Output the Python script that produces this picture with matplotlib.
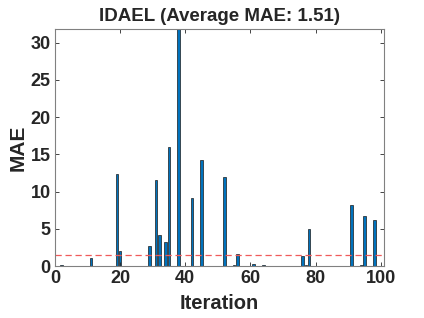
import numpy as np
import matplotlib
matplotlib.use('Agg')
import matplotlib.pyplot as plt

plt.rcParams.update({'font.family': ['Liberation Sans', 'DejaVu Sans'],
                     'font.weight': 'bold', 'axes.labelweight': 'bold',
                     'axes.titleweight': 'bold', 'text.color': '#262626',
                     'axes.labelcolor': '#262626'})

# non-zero MAE per iteration (others are 0)
iters = [2, 11, 19, 20, 28, 29, 31, 32, 34, 35, 38, 40, 42, 45, 52, 55, 56,
         60, 61, 64, 76, 77, 78, 80, 91, 94, 95, 98, 100]
mae_vals = [0.15, 1.04, 12.43, 1.98, 0.05, 2.69, 11.62, 4.13, 3.23, 15.97, 31.85,
            0.05, 9.2, 14.22, 11.9, 0.2, 1.57, 0.05, 0.3, 0.2, 1.4, 0.1, 5.03,
            0.05, 8.26, 0.1, 6.78, 6.19, 0.05]
avg_mae = 1.51

x = np.arange(1, 101)
mae = np.zeros(100)
mae[np.array(iters) - 1] = mae_vals

fig = plt.figure(figsize=(4.24, 3.18), dpi=100)
ax = fig.add_axes([0.1297, 0.1635, 0.776, 0.7453])

ax.bar(x, mae, width=0.8, color='#0072BD', edgecolor='#1a1a1a', linewidth=0.5)
ax.axhline(avg_mae, color='#f05a5a', ls='--', lw=0.9, dashes=(5, 3))

ax.set_xlim(0, 101)
ax.set_ylim(0, mae.max())
ax.set_xticks(np.arange(0, 101, 20))
ax.set_yticks(np.arange(0, 31, 5))
ax.tick_params(direction='in', length=3, width=0.6, colors='#262626',
               labelsize=13, top=True, right=True, pad=3)
for s in ax.spines.values():
    s.set_color('#808080'); s.set_linewidth(0.8)

ax.set_xlabel('Iteration', fontsize=14.5, labelpad=5)
ax.set_ylabel('MAE', fontsize=15, labelpad=2)
ax.set_title(f'IDAEL (Average MAE: {avg_mae:.2f})', fontsize=13.5, pad=6)

plt.savefig('out.png', dpi=100)
